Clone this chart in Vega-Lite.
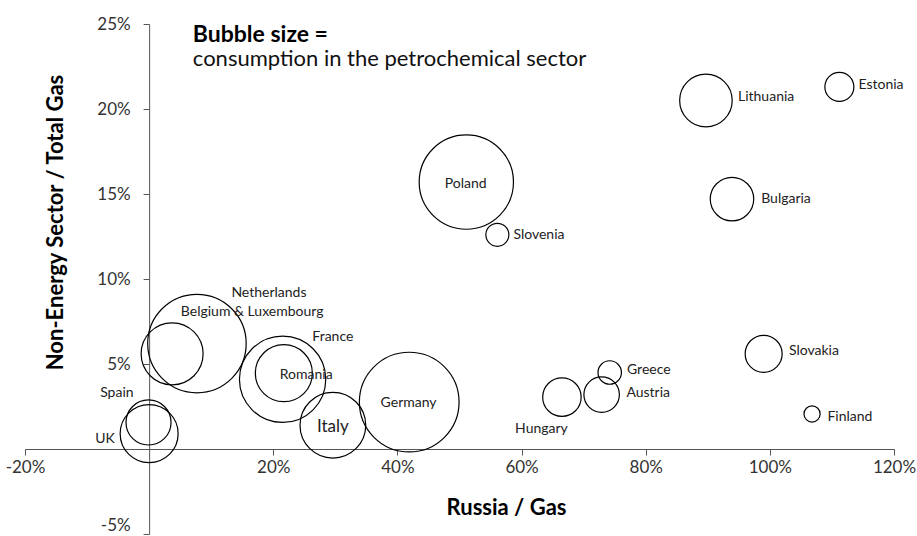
{
  "$schema": "https://vega.github.io/schema/vega-lite/v6.json",
  "width": 869,
  "height": 510,
  "autosize": {"type": "none"},
  "padding": {"left": 25, "top": 24, "right": 23, "bottom": 2},
  "background": "white",
  "config": {"view": {"stroke": null}, "font": "Lato"},
  "datasets": {
    "bubbles": [
      {"country": "UK", "russia": 0, "nonenergy": 0.9, "petchem": 33.6, "labelX": -7.1, "labelY": 0.6},
      {"country": "Spain", "russia": -0.1, "nonenergy": 1.56, "petchem": 20.3, "labelX": -5.2, "labelY": 3.3},
      {"country": "Belgium & Luxembourg", "russia": 3.7, "nonenergy": 5.6, "petchem": 38.4, "labelX": 16.6, "labelY": 8.05},
      {"country": "Netherlands", "russia": 7.7, "nonenergy": 6.2, "petchem": 97.0, "labelX": 19.3, "labelY": 9.2},
      {"country": "France", "russia": 21.5, "nonenergy": 4.1, "petchem": 74.5, "labelX": 29.6, "labelY": 6.6},
      {"country": "Romania", "russia": 21.7, "nonenergy": 4.46, "petchem": 32.5, "labelX": 25.3, "labelY": 4.36},
      {"country": "Italy", "russia": 29.6, "nonenergy": 1.4, "petchem": 43.2, "labelX": 29.6, "labelY": 1.32},
      {"country": "Germany", "russia": 41.9, "nonenergy": 2.76, "petchem": 99.4, "labelX": 41.8, "labelY": 2.72},
      {"country": "Hungary", "russia": 66.5, "nonenergy": 3.05, "petchem": 14.8, "labelX": 63.2, "labelY": 1.2},
      {"country": "Austria", "russia": 72.9, "nonenergy": 3.2, "petchem": 12.6, "labelX": 80.4, "labelY": 3.28},
      {"country": "Greece", "russia": 74.2, "nonenergy": 4.5, "petchem": 5.5, "labelX": 80.5, "labelY": 4.66},
      {"country": "Slovakia", "russia": 99.0, "nonenergy": 5.6, "petchem": 13.7, "labelX": 107.1, "labelY": 5.74},
      {"country": "Finland", "russia": 106.8, "nonenergy": 2.06, "petchem": 2.6, "labelX": 112.9, "labelY": 1.87},
      {"country": "Lithuania", "russia": 89.7, "nonenergy": 20.5, "petchem": 27.6, "labelX": 99.4, "labelY": 20.7},
      {"country": "Estonia", "russia": 111.2, "nonenergy": 21.3, "petchem": 8.4, "labelX": 117.9, "labelY": 21.4},
      {"country": "Bulgaria", "russia": 93.9, "nonenergy": 14.7, "petchem": 18.9, "labelX": 102.6, "labelY": 14.7},
      {"country": "Poland", "russia": 51.1, "nonenergy": 15.7, "petchem": 88.9, "labelX": 51.0, "labelY": 15.6},
      {"country": "Slovenia", "russia": 56.1, "nonenergy": 12.6, "petchem": 5.3, "labelX": 62.8, "labelY": 12.6}
    ],
    "note": [
      {"line": 1, "text": "Bubble size =", "nx": 7.04, "ny": 23.95},
      {"line": 2, "text": "consumption in the petrochemical sector", "nx": 7.04, "ny": 22.52}
    ]
  },
  "layer": [
    {
      "data": {"name": "bubbles"},
      "mark": {"type": "point", "shape": "circle", "filled": false, "stroke": "#000", "strokeWidth": 1.2, "opacity": 1},
      "encoding": {
        "x": {
          "field": "russia", "type": "quantitative", "title": "Russia / Gas",
          "scale": {"domain": [-20, 120], "nice": false, "zero": false},
          "axis": {
            "values": [-20, 20, 40, 60, 80, 100, 120],
            "labelExpr": "datum.value + '%'",
            "offset": -85,
            "grid": false,
            "domainColor": "#555", "tickColor": "#555", "tickSize": 6,
            "labelFontSize": 17, "labelColor": "#333", "labelPadding": 4,
            "labelOverlap": false, "labelFlush": false,
            "titleFontSize": 22, "titleFontWeight": "bold", "titleColor": "#000",
            "titleX": 481, "titleY": 65, "titleBaseline": "alphabetic", "titleAlign": "center"
          }
        },
        "y": {
          "field": "nonenergy", "type": "quantitative", "title": "Non-Energy Sector / Total Gas",
          "scale": {"domain": [-5, 25], "nice": false, "zero": false},
          "axis": {
            "values": [-5, 5, 10, 15, 20, 25],
            "labelExpr": "datum.value + '%'",
            "labelBaseline": {"condition": {"test": "datum.value === -5", "value": "bottom"}, "value": "middle"},
            "offset": -124.14,
            "grid": false,
            "domainColor": "#555", "tickColor": "#555", "tickSize": 6,
            "labelFontSize": 17, "labelColor": "#333", "labelPadding": 13,
            "labelOverlap": false, "labelFlush": false,
            "titleFontSize": 22, "titleFontWeight": "bold", "titleColor": "#000",
            "titleX": -87, "titleY": 198, "titleAngle": 270, "titleBaseline": "alphabetic", "titleAlign": "center"
          }
        },
        "size": {"field": "petchem", "type": "quantitative", "scale": {"domain": [0, 100], "range": [0, 10000]}, "legend": null}
      }
    },
    {
      "data": {"name": "bubbles"},
      "mark": {"type": "text", "font": "Lato", "color": "#222", "align": "center", "baseline": "middle"},
      "encoding": {
        "x": {"field": "labelX", "type": "quantitative", "title": "Russia / Gas"},
        "y": {"field": "labelY", "type": "quantitative", "title": "Non-Energy Sector / Total Gas"},
        "text": {"field": "country"},
        "size": {"condition": {"test": "datum.country === 'Italy'", "value": 17}, "value": 14}
      }
    },
    {
      "data": {"name": "note"},
      "transform": [{"filter": "datum.line === 1"}],
      "mark": {"type": "text", "font": "Lato", "fontWeight": "bold", "fontSize": 23, "color": "#000", "align": "left", "baseline": "alphabetic"},
      "encoding": {
        "x": {"field": "nx", "type": "quantitative", "title": "Russia / Gas"},
        "y": {"field": "ny", "type": "quantitative", "title": "Non-Energy Sector / Total Gas"},
        "text": {"field": "text"}
      }
    },
    {
      "data": {"name": "note"},
      "transform": [{"filter": "datum.line === 2"}],
      "mark": {"type": "text", "font": "Lato", "fontSize": 22, "color": "#111", "align": "left", "baseline": "alphabetic"},
      "encoding": {
        "x": {"field": "nx", "type": "quantitative", "title": "Russia / Gas"},
        "y": {"field": "ny", "type": "quantitative", "title": "Non-Energy Sector / Total Gas"},
        "text": {"field": "text"}
      }
    }
  ]
}
